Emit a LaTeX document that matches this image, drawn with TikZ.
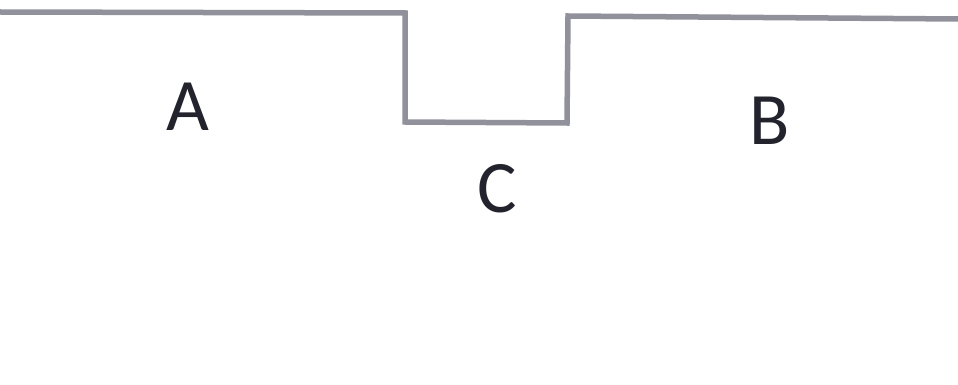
\documentclass[tikz,border=0pt]{standalone}
\usepackage{fontspec}
\setmainfont{Carlito}
\definecolor{linegray}{RGB}{145,145,155}
\definecolor{textdark}{RGB}{35,35,45}
\begin{document}
\begin{tikzpicture}[x=1pt,y=-1pt,
  lbl/.style={font=\fontsize{74}{80}\selectfont, text=textdark, inner sep=0pt, anchor=center},
  profile/.style={draw=linegray, line width=5.5pt, line join=miter}]
\useasboundingbox (0,0) rectangle (958,385);
\coordinate (p0) at (0,12);
\coordinate (p1) at (405,13);
\coordinate (p2) at (405,122);
\coordinate (p3) at (567,123);
\coordinate (p4) at (568,16);
\coordinate (p5) at (958,19);
\draw[profile] (p0) -- (p1) -- (p2) -- (p3) -- (p4) -- (p5);
\node[lbl] (A) at (188,107) {A};
\node[lbl] (B) at (770,121) {B};
\node[lbl] (C) at (497,189) {C};
\end{tikzpicture}
\end{document}
